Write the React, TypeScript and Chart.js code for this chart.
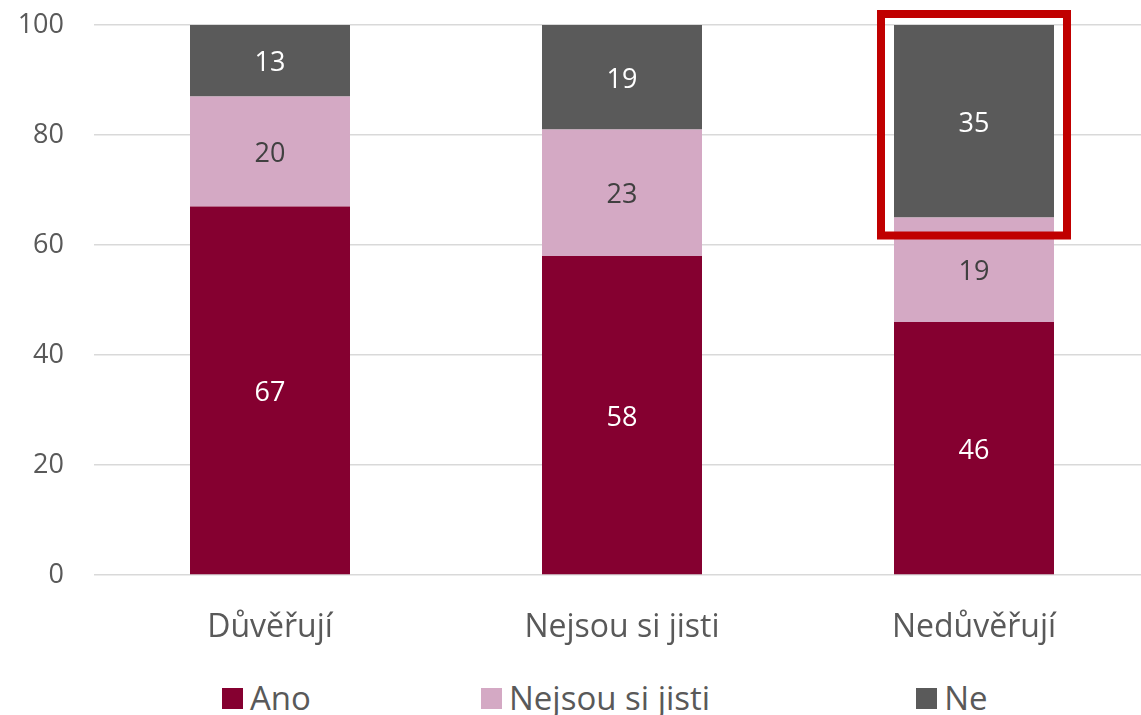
import React, { useEffect, useRef } from "react";
import { Chart, registerables } from "chart.js";

Chart.register(...registerables);

// ---- data ----
const categories = ["Důvěřují", "Nejsou si jisti", "Nedůvěřují"];
const seriesNames = ["Ano", "Nejsou si jisti", "Ne"];
const anoValues = [67, 58, 46];
const nejsouValues = [20, 23, 19];
const neValues = [13, 19, 35];
const yTicks = [0, 20, 40, 60, 80, 100];
const highlightIndex = 2;

// ---- style ----
const COLORS = ["#850030", "#D4A9C4", "#5A5A5A"];
const LABEL_COLORS = ["#FFFFFF", "#404040", "#FFFFFF"];
const TEXT_COLOR = "#595959";
const FONT = '"Open Sans", sans-serif';
const LEGEND_GAPS = [170, 206, 0];

const dataLabelPlugin = {
  id: "dataLabels",
  afterDatasetsDraw(chart: any) {
    const ctx = chart.ctx;
    ctx.save();
    ctx.font = `27px ${FONT}`;
    ctx.textAlign = "center";
    ctx.textBaseline = "middle";
    chart.data.datasets.forEach((ds: any, di: number) => {
      const meta = chart.getDatasetMeta(di);
      meta.data.forEach((el: any, i: number) => {
        const p = el.getProps(["x", "y", "base"], true);
        ctx.fillStyle = LABEL_COLORS[di];
        ctx.fillText(String(ds.data[i]), p.x, (p.y + p.base) / 2 + 3);
      });
    });
    ctx.restore();
  },
};

const highlightPlugin = {
  id: "highlight",
  afterDatasetsDraw(chart: any) {
    const meta = chart.getDatasetMeta(2);
    const el = meta.data[highlightIndex];
    if (!el) return;
    const p = el.getProps(["x", "y", "base", "width"], true);
    const ctx = chart.ctx;
    const top = chart.scales.y.getPixelForValue(100) - 11;
    const bottom = p.base + 18;
    const left = p.x - p.width / 2 - 13;
    const right = p.x + p.width / 2 + 13;
    ctx.save();
    ctx.strokeStyle = "#C00000";
    ctx.lineWidth = 8;
    ctx.strokeRect(left, top, right - left, bottom - top);
    ctx.restore();
  },
};

export default function App() {
  const canvasRef = useRef<HTMLCanvasElement | null>(null);

  useEffect(() => {
    let chart: Chart | null = null;
    let cancelled = false;
    const make = () => {
      if (cancelled || !canvasRef.current) return;
      chart = new Chart(canvasRef.current, {
        type: "bar",
        data: {
          labels: categories,
          datasets: [
            { label: seriesNames[0], data: anoValues, backgroundColor: COLORS[0] },
            { label: seriesNames[1], data: nejsouValues, backgroundColor: COLORS[1] },
            { label: seriesNames[2], data: neValues, backgroundColor: COLORS[2] },
          ],
        },
        options: {
          responsive: false,
          animation: false,
          layout: { padding: { top: 25, right: 2, left: 0, bottom: 0 } },
          datasets: {
            bar: { categoryPercentage: 1, barPercentage: 160 / 352 },
          },
          plugins: {
            legend: { display: false },
            tooltip: { enabled: false },
          },
          scales: {
            x: {
              stacked: true,
              grid: { display: false },
              border: { display: false },
              ticks: {
                font: { family: FONT, size: 32 },
                color: TEXT_COLOR,
                padding: 26,
                maxRotation: 0,
              },
              afterFit: (scale: any) => {
                scale.height = 85;
                scale.paddingLeft = 0;
                scale.paddingRight = 0;
              },
            },
            y: {
              stacked: true,
              min: 0,
              max: 100,
              afterBuildTicks: (scale: any) => {
                scale.ticks = yTicks.map((v) => ({ value: v }));
              },
              grid: { color: "#D9D9D9", lineWidth: 1.5, drawTicks: false },
              border: { display: false },
              ticks: {
                font: { family: FONT, size: 27 },
                color: TEXT_COLOR,
                padding: 30,
              },
              afterFit: (scale: any) => {
                scale.width = 94;
                scale.paddingTop = 0;
                scale.paddingBottom = 0;
              },
            },
          },
        },
        plugins: [dataLabelPlugin, highlightPlugin],
      } as any);
    };
    const fontsApi = (document as any).fonts;
    if (fontsApi && fontsApi.load) {
      Promise.all([
        fontsApi.load(`27px ${FONT}`),
        fontsApi.load(`32px ${FONT}`),
      ])
        .catch(() => {})
        .then(make);
    } else {
      make();
    }
    return () => {
      cancelled = true;
      if (chart) chart.destroy();
    };
  }, []);

  return (
    <div
      style={{
        position: "absolute",
        left: 0,
        top: 0,
        width: 1141,
        height: 715,
        overflow: "hidden",
        background: "#fff",
      }}
    >
      <canvas ref={canvasRef} width={1152} height={660} style={{ display: "block" }} />
      <div
        style={{
          position: "absolute",
          top: 678,
          left: 222,
          display: "flex",
          alignItems: "center",
          fontFamily: FONT,
          fontSize: 33,
          color: TEXT_COLOR,
          lineHeight: "40px",
          whiteSpace: "nowrap",
        }}
      >
        {seriesNames.map((name, i) => (
          <div
            key={name}
            style={{ display: "flex", alignItems: "center", marginRight: LEGEND_GAPS[i] }}
          >
            <span
              style={{
                display: "inline-block",
                width: 21,
                height: 21,
                background: COLORS[i],
                marginRight: 7,
              }}
            />
            <span>{name}</span>
          </div>
        ))}
      </div>
    </div>
  );
}
